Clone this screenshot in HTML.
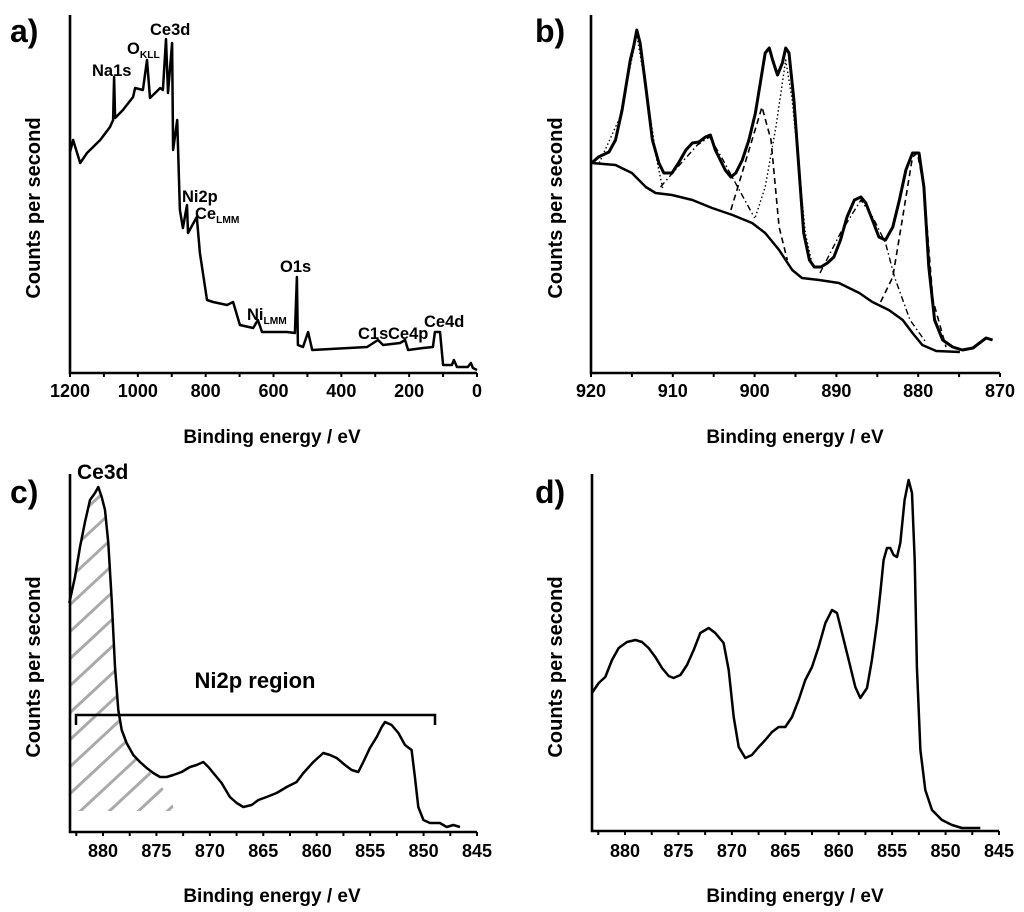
<!DOCTYPE html>
<html><head><meta charset="utf-8">
<style>
html,body{margin:0;padding:0;background:#fff;overflow:hidden;width:1024px;height:912px;}
svg{display:block;font-family:"Liberation Sans",sans-serif;font-weight:bold;}
</style></head>
<body>
<svg id="fig" width="1024" height="912" viewBox="0 0 1024 912" xmlns="http://www.w3.org/2000/svg"></svg>
<script>
// ---------- Panel a: survey spectrum ----------
const aEnergy = [1200,1191,1170,1150,1132,1111,1082,1073,1070,1067,1044,1014,1008,985,973,964,934,926,917,911,899,896,884,881,876,867,855,852,826,817,796,778,737,719,699,660,646,634,560,537,531,528,513,498,486,324,292,277,227,212,203,159,130,124,109,100,74,68,59,27,18,12,0];
const aCounts = [220,232,209,219,225,232,245,252,295,254,262,275,284,282,312,274,284,282,333,279,329,222,252,219,162,144,167,139,155,119,72,70,67,70,47,44,52,40,40,39,95,27,25,40,22,25,32,27,29,32,22,24,25,40,40,7,7,12,5,5,9,4,2];
const aTicks = [1200,1000,800,600,400,200,0];
const aPeakLabels = ["Na1s","O","Ce3d","Ni2p","Ce","Ni","O1s","C1s","Ce4p","Ce4d"];

// ---------- Panel b: Ce3d high resolution ----------
const bEnergy = [919.9,919.1,917.8,917.0,916.2,915.6,915.2,914.8,914.4,914.0,913.3,912.5,911.7,911.1,910.1,909.3,908.4,907.6,906.8,906.0,905.4,904.8,903.6,902.9,902.3,901.5,900.7,899.9,899.3,898.7,898.2,897.8,897.2,896.6,896.2,895.8,895.2,894.6,894.0,893.3,892.7,891.9,891.1,890.3,889.5,888.7,887.8,887.0,886.4,885.6,884.8,884.0,883.1,882.3,881.5,880.7,879.9,879.3,878.7,878.0,877.0,875.8,874.6,873.3,872.5,871.7,870.9];
const bCounts = [210,216,221,233,263,293,313,326,343,330,286,233,210,200,200,210,223,230,231,236,238,223,203,196,200,213,233,260,290,320,325,313,298,310,325,320,273,206,140,113,106,106,110,116,133,156,173,176,170,153,136,133,146,173,203,220,220,186,106,53,33,26,23,25,30,35,33];
const bBgEnergy = [919.9,917.0,915.0,913.3,912.1,910.1,907.6,905.2,902.7,900.3,898.7,897.0,895.4,894.2,892.1,889.7,887.2,885.6,883.6,881.9,880.7,879.5,877.8,874.9];
const bBgCounts = [210,208,200,186,180,178,173,165,158,150,140,123,103,95,93,90,80,71,63,53,40,28,22,21];
const bC1Energy = [919,916.5,914.4,913,912,911.2];
const bC1Counts = [210,255,338,270,215,183];
const bC2Energy = [911.5,909.5,907,905.5,904,902,900];
const bC2Counts = [186,205,228,236,215,185,155];
const bC3Energy = [902.9,899.1,898.0,897.0,896.0];
const bC3Counts = [163,266,233,146,113];
const bC4Energy = [899.9,898.7,897.4,896.2,895.4,894.6,893.8,893.0];
const bC4Counts = [156,186,246,313,273,206,140,110];
const bC5Energy = [892,889.5,887,885.5,884,882.9,881,879];
const bC5Counts = [100,140,173,155,130,96,53,30];
const bC6Energy = [884.6,883.1,881.9,880.7,880.1,879.3,878.2,876.6];
const bC6Counts = [71,96,156,216,220,186,73,26];
const bTicks = [920,910,900,890,880,870];

// ---------- Panel c: Ni2p region on catalyst ----------
const cEnergy = [883.15,882.62,882.15,881.68,881.22,880.75,880.44,880.12,879.81,879.50,879.19,878.88,878.57,878.25,877.79,877.16,876.54,875.91,875.29,874.67,874.04,873.42,872.64,871.86,871.24,870.61,870.14,869.52,868.90,868.12,867.49,866.87,866.09,865.46,864.69,863.75,862.81,861.88,861.25,860.32,859.38,858.76,858.13,857.35,856.73,856.11,855.64,855.02,854.39,853.92,853.61,852.99,852.36,851.74,851.12,850.81,850.49,850.02,849.40,848.47,847.84,847.22,846.59];
const cCounts = [228,254,284,309,331,338,344,334,321,288,231,164,121,101,88,76,69,63,58,54,54,56,59,64,66,69,64,56,48,34,28,24,26,31,34,38,44,49,58,69,78,76,73,66,61,59,69,83,94,104,109,106,98,86,81,54,24,11,8,8,4,6,4];
const cTicks = [880,875,870,865,860,855,850,845];

// ---------- Panel d: Ni2p reference ----------
const dEnergy = [883.09,882.46,881.84,881.22,880.59,879.81,879.03,878.41,877.79,877.16,876.54,875.91,875.45,874.82,874.20,873.57,872.95,872.17,871.55,870.77,870.30,869.83,869.36,868.74,868.12,867.49,866.87,866.24,865.62,865.00,864.37,863.75,863.13,862.50,861.88,861.25,860.63,860.16,859.69,859.07,858.45,857.98,857.35,856.89,856.42,856.11,855.80,855.48,855.17,854.86,854.55,854.24,853.83,853.46,853.14,852.89,852.68,852.36,851.90,851.27,850.34,849.40,848.47,847.53,846.75];
const dCounts = [137,147,153,170,182,188,190,188,182,173,162,154,152,155,165,180,197,202,197,187,160,113,83,72,75,83,90,98,103,103,113,130,150,163,183,207,220,217,197,170,143,132,142,170,207,237,270,282,282,275,273,287,330,350,337,270,163,80,40,20,10,5,2,2,2];
const dTicks = [880,875,870,865,860,855,850,845];

const NS = "http://www.w3.org/2000/svg";
const svg = document.getElementById('fig');
function mk(tag, attrs, parent){
  const e = document.createElementNS(NS, tag);
  for (const k in attrs) e.setAttribute(k, attrs[k]);
  (parent||svg).appendChild(e);
  return e;
}
function scaleX(d0,d1,r0,r1){ return v => r0 + (v-d0)/(d1-d0)*(r1-r0); }

function axes(g, L, R, B, T, xs, ticks, minorStep, minorFrom, minorTo, labelY, titleX, titleY, ylabX, ylabY){
  const ax = mk('path',{d:`M${L} ${T} L${L} ${B} L${R} ${B}`,fill:'none',stroke:'#000','stroke-width':2.6},g);
  
  
  for (let v=minorFrom; v>=minorTo-1e-9; v-=minorStep){
    const x = xs(v);
    const t = mk('line',{x1:x,x2:x,y1:B,y2:B+4,stroke:'#000','stroke-width':2},g);
    
    
  }
  ticks.forEach(v=>{
    const x = xs(v);
    const t = mk('text',{x:x,y:labelY,'text-anchor':'middle','font-size':18},g);
    t.textContent = v;
    
    
  });
  const xt = mk('text',{x:titleX,y:titleY,'text-anchor':'middle','font-size':19},g);
  xt.textContent = 'Binding energy / eV';
  
  
  const yt = mk('text',{x:0,y:0,'text-anchor':'middle','font-size':20,transform:`translate(${ylabX},${ylabY}) rotate(-90)`},g);
  yt.textContent = 'Counts per second';
  
  
}
function line(g, E, C, xs, ys, attrs, name){
  const d = E.map((e,i)=>(i?'L':'M')+xs(e).toFixed(1)+' '+ys(C[i]).toFixed(1)).join(' ');
  const p = mk('path',Object.assign({d:d,fill:'none',stroke:'#000','stroke-width':2.5,'stroke-linejoin':'round'},attrs),g);
  
  
  return p;
}
function panelLabel(g, txt, x, y){
  const t = mk('text',{x:x,y:y,'font-size':32},g);
  t.textContent = txt;
  
  
}
function txt(g, s, x, y, size, name, sub){
  const t = mk('text',{x:x,y:y,'font-size':size},g);
  t.textContent = s;
  if (sub){
    const ts = mk('tspan',{'font-size':size*0.62,dy:4},t);
    ts.textContent = sub;
  }
  
  
  return t;
}

// ===== Panel a =====
{
  const g = mk('g',{});
  
  
  const xs = scaleX(1200,0,70,477);
  const ys = scaleX(0,357,372,15);
  panelLabel(g,'a)',10,42);
  axes(g,70,477,373,15,xs,aTicks,100,1200,0,397,272,443,40,208);
  line(g,aEnergy,aCounts,xs,ys,{},'survey-spectrum-line');
  txt(g,aPeakLabels[0],92,76,16.5,'label-na1s');
  txt(g,aPeakLabels[1],127,54,16.5,'label-okll','KLL');
  txt(g,aPeakLabels[2],150,35,16.5,'label-ce3d');
  txt(g,aPeakLabels[3],182,202,16.5,'label-ni2p');
  txt(g,aPeakLabels[4],195,219,16.5,'label-celmm','LMM');
  txt(g,aPeakLabels[5],247,320,16.5,'label-nilmm','LMM');
  txt(g,aPeakLabels[6],280,272,16.5,'label-o1s');
  txt(g,aPeakLabels[7],358,339,16.5,'label-c1s');
  txt(g,aPeakLabels[8],388,339,16.5,'label-ce4p');
  txt(g,aPeakLabels[9],424,327,16.5,'label-ce4d');
}
// ===== Panel b =====
{
  const g = mk('g',{});
  
  
  const xs = scaleX(920,870,591,1000);
  const ys = scaleX(0,357,373,16);
  panelLabel(g,'b)',535,42);
  axes(g,591,1000,373,15,xs,bTicks,5,920,870,397,795,443,562,208);
  line(g,bBgEnergy,bBgCounts,xs,ys,{'stroke-width':2.5},'background-line');
  line(g,bC1Energy,bC1Counts,xs,ys,{'stroke-width':1.4,'stroke-dasharray':'1.5 2.5'},'component-1');
  line(g,bC2Energy,bC2Counts,xs,ys,{'stroke-width':1.4,'stroke-dasharray':'6 3 1.5 3'},'component-2');
  line(g,bC3Energy,bC3Counts,xs,ys,{'stroke-width':1.6,'stroke-dasharray':'6 4'},'component-3');
  line(g,bC4Energy,bC4Counts,xs,ys,{'stroke-width':1.4,'stroke-dasharray':'1.5 2.5'},'component-4');
  line(g,bC5Energy,bC5Counts,xs,ys,{'stroke-width':1.4,'stroke-dasharray':'6 3 1.5 3'},'component-5');
  line(g,bC6Energy,bC6Counts,xs,ys,{'stroke-width':1.6,'stroke-dasharray':'6 4'},'component-6');
  line(g,bEnergy,bCounts,xs,ys,{'stroke-width':3},'ce3d-spectrum-line');
}
// ===== Panel c =====
{
  const g = mk('g',{});
  
  
  const xs = scaleX(880,845,103,477);
  const ys = scaleX(0,357,831,474);
  const clipE = cEnergy.filter(e=>e>=876.5);
  const clipPts = clipE.map((e,i)=>xs(e)+','+ys(cCounts[i]));
  clipPts.push(xs(875)+','+ys(52), xs(873.6)+','+ys(30), xs(873.3)+','+ys(20), xs(883.2)+','+ys(20));
  const defs = mk('defs',{},g);
  const cp = mk('clipPath',{id:'hatchclip'},defs);
  mk('polygon',{points:clipPts.join(' ')},cp);
  const hg = mk('g',{'clip-path':'url(#hatchclip)'},g);
  
  
  for (let k=-20;k<20;k++){
    const y0 = 830 - k*27;
    mk('line',{x1:60,y1:y0,x2:200,y2:y0-140*0.93,stroke:'#aaa','stroke-width':3},hg);
  }
  panelLabel(g,'c)',10,503);
  axes(g,70,477,832,474,xs,cTicks,2.5,882.5,845,857,272,902,40,667);
  line(g,cEnergy,cCounts,xs,ys,{},'ni2p-catalyst-line');
  const br = mk('path',{d:'M76 725 L76 715 L435 715 L435 725',fill:'none',stroke:'#000','stroke-width':2.5},g);
  
  
  const nt = mk('text',{x:255,y:688,'text-anchor':'middle','font-size':22},g);
  nt.textContent = 'Ni2p region';
  
  
  txt(g,'Ce3d',77,479,21,'ce3d-label');
}
// ===== Panel d =====
{
  const g = mk('g',{});
  
  
  const xs = scaleX(880,845,625,999);
  const ys = scaleX(0,357,830,473);
  panelLabel(g,'d)',535,503);
  axes(g,592,999,831,474,xs,dTicks,2.5,882.5,845,857,795,902,562,667);
  line(g,dEnergy,dCounts,xs,ys,{},'ni2p-reference-line');
}
</script>
</body></html>
